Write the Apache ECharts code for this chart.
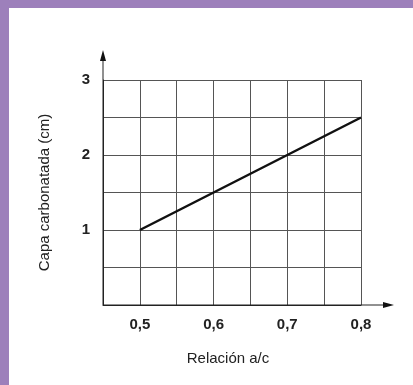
<!DOCTYPE html>
<html>
<head>
<meta charset="utf-8">
<script src="https://cdn.jsdelivr.net/npm/echarts@6/dist/echarts.min.js"></script>
<style>
  html, body { margin: 0; padding: 0; width: 413px; height: 385px; background: #9d80bb; overflow: hidden; }
  .paper { position: absolute; left: 9px; top: 8px; right: 0; bottom: 0; background: #ffffff; }
  #chart { position: absolute; left: 0; top: 0; width: 413px; height: 385px; }
</style>
</head>
<body>
<div class="paper"></div>
<div id="chart"></div>
<script>
// relación agua/cemento vs. capa carbonatada
const ratios = [0.5, 0.6, 0.7, 0.8]
const depths = [1, 1.5, 2, 2.5]
const xTicks = [0.5, 0.6, 0.7, 0.8]
const yTicks = [1, 2, 3]

const chart = echarts.init(document.getElementById('chart'))
const font = '"Liberation Sans", Arial, sans-serif'
const gridColor = '#555'

const option = {
  animation: false,
  grid: { left: 103, top: 80, right: 52, bottom: 80 },
  xAxis: {
    type: 'value',
    min: 0.45,
    max: 0.8,
    interval: 0.05,
    name: 'Relación a/c',
    nameLocation: 'middle',
    nameGap: 46,
    nameTextStyle: { color: '#222', fontSize: 15, fontFamily: font, padding: [0, 8, 0, 0] },
    axisLine: { show: true, lineStyle: { color: '#222', width: 1 } },
    axisTick: { show: false },
    splitLine: { show: true, lineStyle: { color: gridColor, width: 1 } },
    axisLabel: {
      margin: 12,
      color: '#222',
      fontSize: 15,
      fontWeight: 'bold',
      fontFamily: font,
      formatter: (v) => {
        const hit = xTicks.find((t) => Math.abs(t - v) < 1e-6)
        return hit === undefined ? '' : hit.toFixed(1).replace('.', ',')
      },
    },
  },
  yAxis: {
    type: 'value',
    min: 0,
    max: 3,
    interval: 0.5,
    name: 'Capa carbonatada (cm)',
    nameLocation: 'middle',
    nameGap: 51,
    nameTextStyle: { color: '#222', fontSize: 15, fontFamily: font },
    axisLine: { show: true, lineStyle: { color: '#222', width: 1 } },
    axisTick: { show: false },
    splitLine: { show: true, lineStyle: { color: gridColor, width: 1 } },
    axisLabel: {
      margin: 13,
      color: '#222',
      fontSize: 15,
      fontWeight: 'bold',
      fontFamily: font,
      formatter: (v) => (yTicks.includes(v) ? String(v) : ''),
    },
  },
  series: [
    {
      type: 'line',
      data: ratios.map((r, i) => [r, depths[i]]),
      symbol: 'none',
      lineStyle: { color: '#111', width: 2.5 },
    },
  ],
}

chart.setOption(option)

// right border of the grid (0.8) and axis arrows
const origin = chart.convertToPixel({ gridIndex: 0 }, [0.45, 0])
const corner = chart.convertToPixel({ gridIndex: 0 }, [0.8, 3])
const ax = origin[0], ay = origin[1]
const xEnd = corner[0] + 33
const yEnd = corner[1] - 30

chart.setOption({
  graphic: [
    { type: 'line', shape: { x1: ax, y1: ay, x2: xEnd - 8, y2: ay }, style: { stroke: '#222', lineWidth: 1 } },
    { type: 'polygon', shape: { points: [[xEnd, ay], [xEnd - 11, ay - 3], [xEnd - 11, ay + 3]] }, style: { fill: '#111' } },
    { type: 'line', shape: { x1: ax, y1: ay, x2: ax, y2: yEnd + 8 }, style: { stroke: '#222', lineWidth: 1 } },
    { type: 'polygon', shape: { points: [[ax, yEnd], [ax - 3, yEnd + 11], [ax + 3, yEnd + 11]] }, style: { fill: '#111' } },
  ],
})

window.addEventListener('resize', () => {
  chart.resize()
})
</script>
</body>
</html>
